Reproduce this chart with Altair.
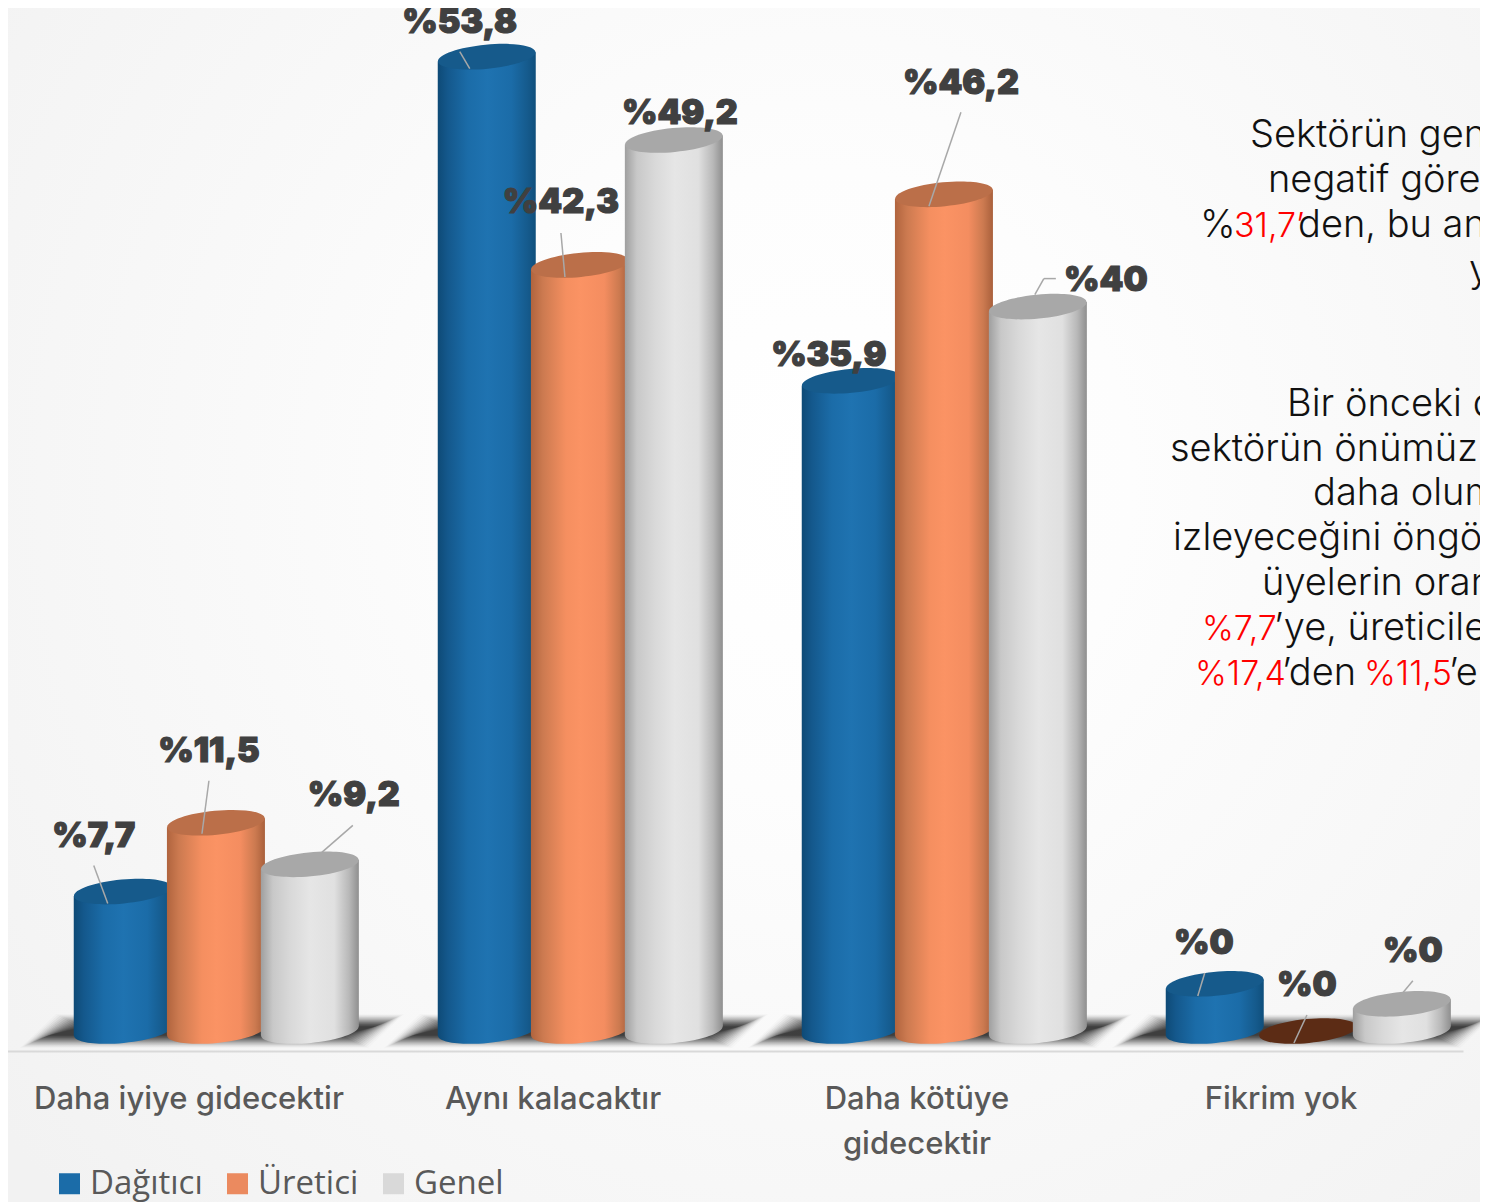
import altair as alt
import pandas as pd

categories = ["Daha iyiye gidecektir", "Aynı kalacaktır", "Daha kötüye gidecektir", "Fikrim yok"]
series = ["Dağıtıcı", "Üretici", "Genel"]
# bar heights
bar_heights = {
    "Dağıtıcı": [7.7, 53.8, 35.9, 2.6],
    "Üretici": [11.5, 42.3, 46.2, 0.0],
    "Genel": [9.2, 49.2, 40.0, 1.5],
}
# printed labels
bar_labels = {
    "Dağıtıcı": ["%7,7", "%53,8", "%35,9", "%0"],
    "Üretici": ["%11,5", "%42,3", "%46,2", "%0"],
    "Genel": ["%9,2", "%49,2", "%40", "%0"],
}
legend_colors = ["#1b6ca8", "#eb8a5f", "#d9d9d9"]
cap_colors = {"Dağıtıcı": "#165a8b", "Üretici": "#bb6f49", "Genel": "#a8a8a8"}
empty_cap = "#5c2c15"
series_offset = {"Dağıtıcı": -0.182, "Üretici": 0.074, "Genel": 0.332}

stops = {
    "Dağıtıcı": [(0, "#0e4a76"), (0.1, "#14588c"), (0.3, "#1b6ca8"), (0.5, "#1f73b1"), (0.75, "#1b6ca8"), (0.92, "#155a8c"), (1, "#0f4f7c")],
    "Üretici": [(0, "#b0643e"), (0.12, "#cc7a50"), (0.35, "#f58f60"), (0.5, "#fb9364"), (0.75, "#f48d60"), (0.9, "#cc7a50"), (1, "#a9603c")],
    "Genel": [(0, "#9f9f9f"), (0.12, "#c8c8c8"), (0.3, "#d9d9d9"), (0.5, "#e6e6e6"), (0.75, "#e0e0e0"), (0.9, "#b8b8b8"), (1, "#8f8f8f")],
}

# label offset from the top of each bar, in pixels
label_offsets = {
    "Dağıtıcı": [(-29, -55), (-27, -34), (-22, -25), (-11, -40)],
    "Üretici": [(-7, -71), (-19, -62), (17, -110), (-1, -45)],
    "Genel": [(44, -68), (6, -26), (68, -26), (11, -52)],
}
# leader line start and end, in pixels from the top of each bar
leader_offsets = {
    "Dağıtıcı": [[(-29, -26), (-15, 12)], [(-27, -5), (-17, 12)], None, [(-10, -11), (-17, 12)]],
    "Üretici": [[(-7, -42), (-14, 11)], [(-19, -32), (-15, 12)], [(17, -82), (-15, 12)], [(-1, -16), (-14, 12)]],
    "Genel": [[(43, -39), (12, -12)], None, [[18, -28], [6, -28], [-3, -12]], [(11, -23), (1, -11)]],
}

# right-hand commentary, cropped by the page edge in the source
commentary = [
    [("Sektörün gen", "#111111", 1250, 147)],
    [("negatif göre", "#111111", 1268, 192)],
    [("%", "#111111", 1200, 237), ("31,7’", "#ff0000", 1234, 237), ("den, bu an", "#111111", 1298, 237)],
    [("y", "#111111", 1469, 282)],
    [("Bir önceki d", "#111111", 1287, 416)],
    [("sektörün önümüz", "#111111", 1170, 461)],
    [("daha olum", "#111111", 1313, 505)],
    [("izleyeceğini öngö", "#111111", 1173, 550)],
    [("üyelerin oran", "#111111", 1262, 595)],
    [("%7,7", "#ff0000", 1202, 640), ("’ye, üreticile", "#111111", 1274, 640)],
    [("%17,4", "#ff0000", 1195, 685), ("’den", "#111111", 1282, 685), ("%11,5", "#ff0000", 1364, 685), ("’e", "#111111", 1449, 685)],
]

PX_X = 364.0
PX_Y = 18.11
X_SCALE = alt.Scale(domain=[0, 4], range=[-1, 1455], nice=False, zero=False)
Y_SCALE = alt.Scale(domain=[0, 50], range=[1023, 1023 - 50 * PX_Y], nice=False, zero=False)
HALF = 49 / PX_X
TILT = 0.25
W, H = 1472, 1043
BAR_FONT = "Inter"
TEXT_FONT = "Inter"


def X(f):
    return alt.X(f, type="quantitative", scale=X_SCALE, axis=None, title=None)


def Y(f):
    return alt.Y(f, type="quantitative", scale=Y_SCALE, axis=None, title=None)


def grad(st, lo=0.0, hi=1.0):
    """Horizontal gradient: the [lo, hi] slice of a stop list."""
    def col(t):
        for (a, ca), (b, cb) in zip(st, st[1:]):
            if a <= t <= b:
                f = (t - a) / (b - a)
                ra = [int(ca[i:i + 2], 16) for i in (1, 3, 5)]
                rb = [int(cb[i:i + 2], 16) for i in (1, 3, 5)]
                return "#%02x%02x%02x" % tuple(round(x + (y - x) * f) for x, y in zip(ra, rb))
        return st[-1][1]
    pts = [lo] + [a for a, _ in st if lo < a < hi] + [hi]
    return alt.LinearGradient(
        gradient="linear", x1=0, x2=1, y1=0, y2=0,
        stops=[alt.GradientStop(color=col(t), offset=(t - lo) / (hi - lo)) for t in pts],
    )


rows = []
lead_rows = []
for s in series:
    for i, c in enumerate(categories):
        v = bar_heights[s][i]
        p = i + 0.5 + series_offset[s]
        dx, dy = label_offsets[s][i]
        rows.append(dict(category=c, series=s, value=v, pos=p, label=bar_labels[s][i],
                         lx=p + dx / PX_X, ly=v - dy / PX_Y,
                         left=p - HALF, right=p + HALF,
                         cap=(cap_colors[s] if v > 0 else empty_cap)))
        pts = leader_offsets[s][i]
        if pts:
            for (a, b) in zip(pts, pts[1:]):
                lead_rows.append(dict(x=p + a[0] / PX_X, y=v - a[1] / PX_Y,
                                      x2=p + b[0] / PX_X, y2=v - b[1] / PX_Y))
df = pd.DataFrame(rows)
leads = pd.DataFrame(lead_rows)

text_rows = []
for line in commentary:
    for t, col, px, py in line:
        text_rows.append(dict(text=t, color=col, x=(px - 7) / PX_X, y=(1031 - py) / PX_Y))
texts = pd.DataFrame(text_rows)

# background
bg = alt.Chart(pd.DataFrame({"a": [0]})).mark_rect(
    fill=alt.RadialGradient(
        gradient="radial", x1=0.55, y1=0.42, x2=0.55, y2=0.42, r1=0, r2=0.7,
        stops=[alt.GradientStop(color="#ffffff", offset=0), alt.GradientStop(color="#fdfdfd", offset=0.3),
               alt.GradientStop(color="#f2f2f2", offset=1)],
    )
).encode(x=alt.value(-8), x2=alt.value(W + 8), y=alt.value(-8), y2=alt.value(H + 151))

# floor shadows: stacked translucent parallelograms fake a soft blur
shadow_df = pd.DataFrame({"pos": [i + 0.5 + 23 / PX_X for i in range(4)], "v": [0.0] * 4})
shadow_layers = []
for n, d in enumerate(range(0, 30, 2)):
    hw, hh, sk = (192 - d) / 100, (17 - d * 0.45) / 100, 18 / 100
    path = f"M{-hw:.3f},{hh:.3f}L{-hw + 2 * sk:.3f},{-hh:.3f}L{hw:.3f},{-hh:.3f}L{hw - 2 * sk:.3f},{hh:.3f}Z"
    shadow_layers.append(
        alt.Chart(shadow_df).mark_point(filled=True, fill="#1c1c1c", opacity=0.02 + n * 0.013, shape=path,
                                        size=40000, strokeWidth=0)
        .encode(x=X("pos"), y=Y("v"))
    )

ELL = "M-1,0A1,0.245,0,1,1,1,0A1,0.245,0,1,1,-1,0Z"
ell = dict(filled=True, shape=ELL, size=98 * 98, angle=354.5, opacity=1, strokeWidth=0)

bars = []
for s in series:
    d = df[df.series == s].copy()
    d["lv"], d["lb"] = d.value - TILT, -TILT
    d["rv"], d["rb"] = d.value + TILT, TILT
    d["zero"] = 0.0
    d["lr"] = d.pos + 0.003
    body = d[d.value > 0]
    base = alt.Chart(body)
    bars += [
        base.mark_point(fill=grad(stops[s]), **ell).encode(x=X("pos"), y=Y("zero")),
        base.mark_rect(fill=grad(stops[s], 0, 0.5)).encode(x=X("left"), x2=alt.X2("lr"), y=Y("lv"), y2=alt.Y2("lb")),
        base.mark_rect(fill=grad(stops[s], 0.5, 1)).encode(x=X("pos"), x2=alt.X2("right"), y=Y("rv"), y2=alt.Y2("rb")),
        alt.Chart(d).mark_point(**ell).encode(
            x=X("pos"), y=Y("value"), fill=alt.Fill("cap:N", scale=None, legend=None)),
    ]

leader = alt.Chart(leads).mark_rule(color="#a8a8a8", strokeWidth=1.5).encode(
    x=X("x"), x2=alt.X2("x2"), y=Y("y"), y2=alt.Y2("y2"))

labels = alt.Chart(df).mark_text(
    font=BAR_FONT, fontWeight=900, fontSize=34, color="#404040", baseline="middle", align="center",
    stroke="#404040", strokeWidth=1.2,
).encode(x=X("lx"), y=Y("ly"), text="label:N")

comment_black = alt.Chart(texts[texts.color == "#111111"]).mark_text(
    font=TEXT_FONT, fontWeight=300, fontSize=38, align="left", baseline="alphabetic", color="#111111"
).encode(x=X("x"), y=Y("y"), text="text:N")
comment_red = alt.Chart(texts[texts.color == "#ff0000"]).mark_text(
    font=TEXT_FONT, fontWeight=300, fontSize=34, align="left", baseline="alphabetic", color="#ff0000"
).encode(x=X("x"), y=Y("y"), text="text:N")

# axis and legend carrier: zero-sized points, so only the axis and legend show
axis_layer = alt.Chart(df).mark_point(size=0, opacity=1, filled=True).encode(
    x=alt.X(
        "category:N",
        sort=categories,
        scale=alt.Scale(type="band", domain=categories, range=[-1, 1455], paddingInner=0, paddingOuter=0),
        title=None,
        axis=alt.Axis(
            orient="bottom", zindex=1, ticks=False, grid=False, labelAngle=0, labelAlign="center",
            domain=True, domainColor="#d9d9d9", domainWidth=2,
            labelFont=TEXT_FONT, labelFontWeight=500, labelFontSize=31, labelColor="#595959",
            labelPadding=33, labelLineHeight=45, labelLimit=400,
            labelExpr="datum.label == 'Daha kötüye gidecektir' ? ['Daha kötüye', 'gidecektir'] : datum.label",
        ),
    ),
    color=alt.Color(
        "series:N",
        scale=alt.Scale(domain=series, range=legend_colors),
        legend=alt.Legend(
            title=None, orient="none", legendX=45, legendY=1159, direction="horizontal",
            symbolType="square", symbolSize=441, symbolOpacity=1, symbolStrokeWidth=0,
            labelFont="Open Sans", labelFontSize=33, labelColor="#595959", labelOffset=4,
            columnPadding=18,
        ),
    ),
)

chart = alt.layer(bg, *shadow_layers, *bars, leader, labels, comment_black, comment_red, axis_layer).resolve_scale(
    x="independent"
).properties(
    width=W, height=H,
    padding={"left": 0, "top": 0, "right": 0, "bottom": 151},
    autosize=alt.AutoSizeParams(type="none"),
).configure_view(stroke=None)

chart.save("out.html", embed_options={"renderer": "svg", "actions": False})
